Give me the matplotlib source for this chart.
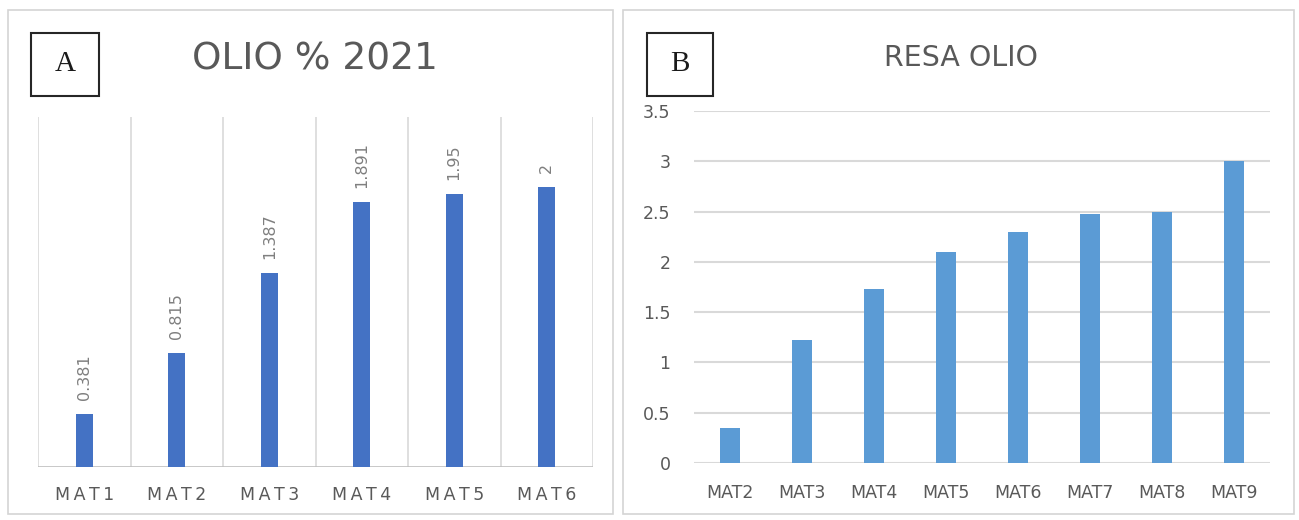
import matplotlib.pyplot as plt
from matplotlib.patches import Rectangle

# panel A: oil percentage 2021
cat_a = ['MAT1', 'MAT2', 'MAT3', 'MAT4', 'MAT5', 'MAT6']
olio_2021 = [0.381, 0.815, 1.387, 1.891, 1.95, 2]

# panel B: oil yield
cat_b = ['MAT2', 'MAT3', 'MAT4', 'MAT5', 'MAT6', 'MAT7', 'MAT8', 'MAT9']
resa_olio = [0.35, 1.22, 1.73, 2.1, 2.3, 2.48, 2.5, 3.0]
ticks_b = [0, 0.5, 1, 1.5, 2, 2.5, 3, 3.5]

W, H = 1299, 520
GRID = '#d9d9d9'
TXT = '#595959'

plt.rcParams['font.family'] = ['DejaVu Sans']


def spaced(s):
    # thin spaces between characters, as in the spreadsheet labels
    return '\u2009'.join(s)


def fx(px):
    return px / W


def fy(py):
    return 1 - py / H


fig = plt.figure(figsize=(W / 100, H / 100), dpi=100)

# panel frames
for x0, x1 in [(8, 613), (623, 1294)]:
    fig.patches.append(Rectangle((fx(x0), fy(514)), fx(x1 - x0), (514 - 10) / H,
                                 transform=fig.transFigure, fill=False,
                                 edgecolor='#d4d4d4', linewidth=1.2))

# ---- panel A
ax1 = fig.add_axes([fx(38), fy(467), fx(593 - 38), (467 - 117) / H])
x_a = range(len(cat_a))
ax1.bar(x_a, olio_2021, width=0.18, color='#4472C4', zorder=3)
ax1.set_xlim(-0.5, len(cat_a) - 0.5)
ax1.set_ylim(0, 2.5)
for b in [i - 0.5 for i in range(len(cat_a) + 1)]:
    ax1.axvline(b, color=GRID, linewidth=1.2, zorder=1)
ax1.axhline(0, color='#bfbfbf', linewidth=1.2, zorder=2)
for i, v in enumerate(olio_2021):
    ax1.annotate(str(v), (i, v), xytext=(0, 10), textcoords='offset points',
                 rotation=90, ha='center', va='bottom', fontsize=11.5, color='#7f7f7f')
ax1.set_xticks(list(x_a))
ax1.set_xticklabels([spaced(c) for c in cat_a], fontsize=12.5, color=TXT)
ax1.tick_params(axis='x', length=0, pad=14)
ax1.set_yticks([])
for s in ax1.spines.values():
    s.set_visible(False)

# ---- panel B
ax2 = fig.add_axes([fx(694), fy(463), fx(1270 - 694), (463 - 111.2) / H])
x_b = range(len(cat_b))
ax2.bar(x_b, resa_olio, width=0.29, color='#5B9BD5', zorder=3)
ax2.set_xlim(-0.5, len(cat_b) - 0.5)
ax2.set_ylim(0, 3.5)
ax2.set_yticks(ticks_b)
ax2.set_yticklabels([f'{t:g}' for t in ticks_b], fontsize=12.5, color=TXT)
ax2.grid(axis='y', color=GRID, linewidth=1.5, zorder=0)
ax2.set_axisbelow(True)
ax2.set_xticks(list(x_b))
ax2.set_xticklabels(cat_b, fontsize=12.5, color=TXT)
ax2.tick_params(axis='x', length=0, pad=15)
ax2.tick_params(axis='y', length=0, pad=17)
for s in ax2.spines.values():
    s.set_visible(False)

# titles
fig.text(fx(315), fy(59), 'OLIO % 2021', ha='center', va='center', fontsize=27, color=TXT)
fig.text(fx(961), fy(58), 'RESA OLIO', ha='center', va='center', fontsize=20.5, color=TXT)

# panel letters in boxes
for letter, x0, x1 in [('A', 31, 99), ('B', 647, 713)]:
    fig.patches.append(Rectangle((fx(x0), fy(96)), fx(x1 - x0), (96 - 33) / H,
                                 transform=fig.transFigure, fill=False,
                                 edgecolor='#262626', linewidth=1.5))
    fig.text(fx((x0 + x1) / 2), fy(64), letter, ha='center', va='center',
             fontsize=21, family='Liberation Serif', color='#1a1a1a')

fig.savefig('out.png', dpi=100, facecolor='white')
